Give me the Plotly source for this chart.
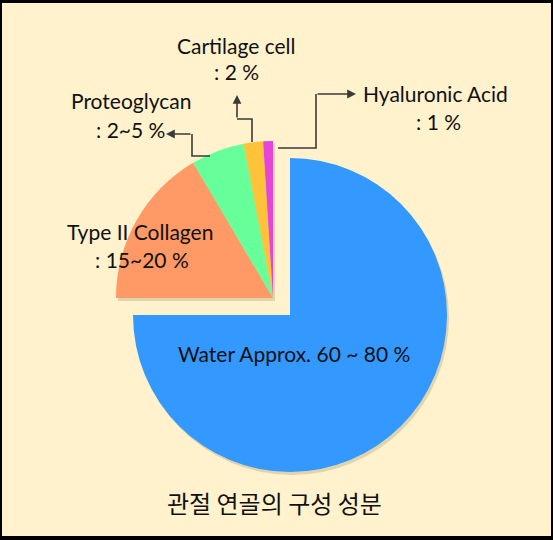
import plotly.graph_objects as go

# ---- data ----
labels = ["Water", "Type II Collagen", "Proteoglycan", "Cartilage cell", "Hyaluronic Acid"]
values = [75, 16.5, 5.5, 2, 1]
colors = ["#3399FF", "#FF9966", "#66FF99", "#FFC33A", "#E645D9"]
label_lines = [
    ["Water Approx. 60 ~ 80 %"],
    ["Type II Collagen", ": 15~20 %"],
    ["Proteoglycan", ": 2~5 %"],
    ["Cartilage cell", ": 2 %"],
    ["Hyaluronic Acid", ": 1 %"],
]
title_text = "관절 연골의 구성 성분"

W, H = 553, 540
BG = "#FFF2CC"
TXT = "#111111"
FONT = "Lato"


def px(x, y):
    return x / W, 1 - y / H


def dom(cx, cy, r):
    return dict(x=[(cx - r) / W, (cx + r) / W], y=[(H - cy - r) / H, (H - cy + r) / H])


R = 157
CX, CY = 290, 315          # main (water) slice center
DX, DY = -17, -17          # offset of the exploded group
CLEAR = "rgba(0,0,0,0)"
SHADOW = "rgba(120,100,60,0.22)"

rest = sum(values[1:])
fig = go.Figure()

common = dict(sort=False, direction="clockwise", rotation=0, textinfo="none",
              hoverinfo="skip", showlegend=False)

# soft shadows
fig.add_trace(go.Pie(values=[values[0], rest], marker=dict(colors=[SHADOW, CLEAR], line=dict(width=0)),
                     domain=dom(CX + 2, CY + 3, R), **common))
fig.add_trace(go.Pie(values=values, marker=dict(colors=[CLEAR] + [SHADOW] * 4, line=dict(width=0)),
                     domain=dom(CX + DX + 2, CY + DY + 3, R), **common))
# main slice
fig.add_trace(go.Pie(values=[values[0], rest], marker=dict(colors=[colors[0], CLEAR], line=dict(width=0)),
                     domain=dom(CX, CY, R), **common))
# exploded group
fig.add_trace(go.Pie(values=values, marker=dict(colors=[CLEAR] + colors[1:], line=dict(width=0)),
                     domain=dom(CX + DX, CY + DY, R), **common))

shapes = []
# background with border (paper is black)
x0, y0 = px(2, 536)
x1, y1 = px(551, 3)
shapes.append(dict(type="rect", xref="paper", yref="paper", x0=x0, y0=y0, x1=x1, y1=y1,
                   fillcolor=BG, line=dict(width=0), layer="below"))

LINE = "#3a3a3a"


def path_shape(pts):
    d = ""
    for i, (x, y) in enumerate(pts):
        X, Y = px(x, y)
        d += ("M" if i == 0 else " L") + f" {X:.5f} {Y:.5f}"
    return dict(type="path", xref="paper", yref="paper", path=d, line=dict(color=LINE, width=1.6))


annotations = []


def connector(pts):
    shapes.append(path_shape(pts[:-1]))
    (ax, ay), (tx, ty) = pts[-2], pts[-1]
    X, Y = px(tx, ty)
    annotations.append(dict(x=X, y=Y, xref="paper", yref="paper", text="", showarrow=True,
                            ax=ax - tx, ay=ay - ty, arrowhead=2, arrowsize=1.1, arrowwidth=1.6,
                            arrowcolor=LINE, standoff=0))


connector([(210, 156), (192, 156), (192, 134), (166, 134)])
connector([(252, 142), (252, 119), (237, 119), (237, 95)])
connector([(278, 148), (316, 148), (316, 94), (356, 94)])


def label(text, x, y, size=21, family=FONT):
    X, Y = px(x, y)
    annotations.append(dict(x=X, y=Y, xref="paper", yref="paper", text=text, showarrow=False,
                            xanchor="center", yanchor="middle",
                            font=dict(family=family, size=size, color=TXT)))


pos = {
    0: [(294, 353)],
    1: [(140, 232), (142, 259)],
    2: [(131, 101), (130, 130)],
    3: [(236, 45), (236, 72)],
    4: [(435, 94), (438, 122)],
}
for i, lines in enumerate(label_lines):
    for t, (x, y) in zip(lines, pos[i]):
        label(t, x, y)

label(title_text, 274, 502, size=24, family="Noto Sans CJK KR")

fig.update_layout(width=W, height=H, margin=dict(l=0, r=0, t=0, b=0),
                  paper_bgcolor="#000000", plot_bgcolor=BG,
                  shapes=shapes, annotations=annotations)

fig.write_html("out.html", config={"displayModeBar": False, "staticPlot": True},
               post_script="document.body.style.margin='0';document.body.style.overflow='hidden';")
